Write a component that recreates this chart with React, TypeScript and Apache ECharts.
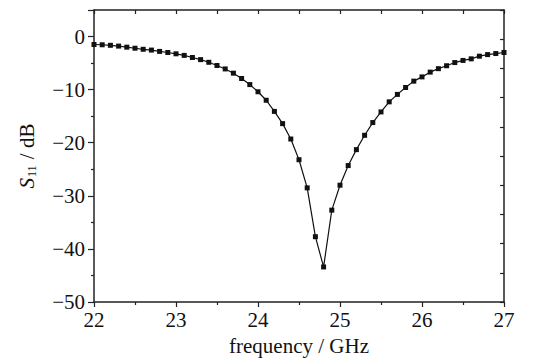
import React, { useEffect, useRef } from "react";
import * as echarts from "echarts";

const freq: number[] = [
  22.0, 22.1, 22.2, 22.3, 22.4, 22.5, 22.6, 22.7, 22.8, 22.9,
  23.0, 23.1, 23.2, 23.3, 23.4, 23.5, 23.6, 23.7, 23.8, 23.9,
  24.0, 24.1, 24.2, 24.3, 24.4, 24.5, 24.6, 24.7, 24.8, 24.9,
  25.0, 25.1, 25.2, 25.3, 25.4, 25.5, 25.6, 25.7, 25.8, 25.9,
  26.0, 26.1, 26.2, 26.3, 26.4, 26.5, 26.6, 26.7, 26.8, 26.9, 27.0,
];
const s11: number[] = [
  -1.5, -1.55, -1.65, -1.8, -2.0, -2.2, -2.4, -2.55, -2.8, -3.0,
  -3.25, -3.55, -3.95, -4.35, -4.85, -5.45, -6.1, -6.9, -7.9, -9.05,
  -10.4, -12.0, -14.1, -16.4, -19.3, -23.2, -28.5, -37.7, -43.4, -32.7,
  -28.0, -24.3, -21.3, -18.6, -16.2, -14.2, -12.3, -10.9, -9.6, -8.4,
  -7.6, -6.7, -6.05, -5.5, -4.9, -4.5, -4.2, -3.7, -3.4, -3.2, -3.0,
];

const FONT = "'Liberation Serif', 'Times New Roman', serif";
const AXIS_COLOR = "#222";

export default function App() {
  const ref = useRef<HTMLDivElement>(null);
  useEffect(() => {
    if (!ref.current) return;
    const chart = echarts.init(ref.current, null, { renderer: "svg" });
    const data = freq.map((f, i) => [f, s11[i]]);
    chart.setOption({
      animation: false,
      backgroundColor: "#fff",
      grid: { left: 94, right: 44, top: 10, bottom: 62 },
      xAxis: [
        {
          type: "value",
          min: 22,
          max: 27,
          interval: 1,
          position: "bottom",
          name: "frequency / GHz",
          nameLocation: "middle",
          nameGap: 33,
          nameTextStyle: { fontFamily: FONT, fontSize: 21, color: "#111" },
          axisLine: { show: true, onZero: false, lineStyle: { color: AXIS_COLOR, width: 1.5 } },
          axisTick: { show: true, inside: false, length: 5, lineStyle: { color: AXIS_COLOR, width: 1.2 } },
          minorTick: { show: true, splitNumber: 2, length: 3, lineStyle: { color: AXIS_COLOR, width: 1.2 } },
          axisLabel: { fontFamily: FONT, fontSize: 21, color: "#111", margin: 7 },
          splitLine: { show: false },
        },
        {
          type: "value",
          min: 22,
          max: 27,
          interval: 0.5,
          position: "top",
          axisLine: { show: true, onZero: false, lineStyle: { color: AXIS_COLOR, width: 1.5 } },
          axisTick: { show: true, inside: true, length: 4, lineStyle: { color: AXIS_COLOR, width: 1.2 } },
          axisLabel: { show: false },
          splitLine: { show: false },
        },
      ],
      yAxis: [
        {
          type: "value",
          min: -50,
          max: 5,
          interval: 10,
          position: "left",
          name: "{s|S}{sub|11}{t| / dB}",
          nameLocation: "middle",
          nameRotate: 90,
          nameGap: 56,
          nameTextStyle: {
            fontFamily: FONT,
            fontSize: 21,
            color: "#111",
            rich: {
              s: { fontFamily: "'Liberation Serif'", fontSize: 21, fontStyle: "italic", color: "#111" },
              sub: { fontFamily: FONT, fontSize: 12, color: "#111", verticalAlign: "bottom", padding: [10, 1, 0, 1] },
              t: { fontFamily: FONT, fontSize: 21, color: "#111" },
            },
          },
          axisLine: { show: true, onZero: false, lineStyle: { color: AXIS_COLOR, width: 1.5 } },
          axisTick: { show: true, inside: false, length: 6, lineStyle: { color: AXIS_COLOR, width: 1.2 } },
          minorTick: { show: true, splitNumber: 2, length: 3, lineStyle: { color: AXIS_COLOR, width: 1.2 } },
          axisLabel: {
            fontFamily: FONT,
            fontSize: 21,
            color: "#111",
            margin: 9,
            formatter: (v: number) => (v > 0 ? "" : String(v).replace("-", "\u2212")),
          },
          splitLine: { show: false },
        },
        {
          type: "value",
          min: 0,
          max: 10,
          interval: 1,
          position: "right",
          axisLine: { show: true, onZero: false, lineStyle: { color: AXIS_COLOR, width: 1.5 } },
          axisTick: { show: true, inside: true, length: 4, lineStyle: { color: AXIS_COLOR, width: 1.2 } },
          axisLabel: { show: false },
          splitLine: { show: false },
        },
      ],
      series: [
        {
          type: "line",
          xAxisIndex: 0,
          yAxisIndex: 0,
          data,
          symbol: "rect",
          symbolSize: 5,
          smooth: false,
          lineStyle: { color: "#111", width: 1.2 },
          itemStyle: { color: "#111" },
        },
      ],
    });
    return () => chart.dispose();
  }, []);
  return (
    <div
      ref={ref}
      style={{ position: "fixed", left: 0, top: 0, width: 548, height: 364 }}
    />
  );
}
